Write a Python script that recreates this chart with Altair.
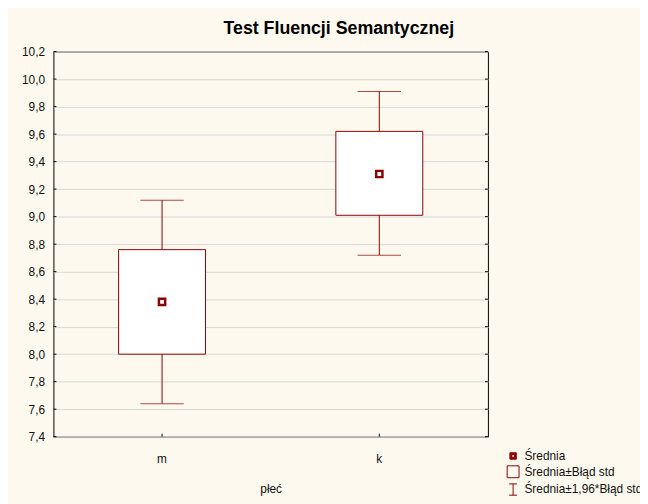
import altair as alt
import pandas as pd

# ---- data ----
categories = ["m", "k"]
means = [8.38, 9.31]
se_low = [8.00, 9.01]
se_high = [8.76, 9.62]
ci_low = [7.64, 8.72]
ci_high = [9.12, 9.91]
y_ticks = [7.4, 7.6, 7.8, 8.0, 8.2, 8.4, 8.6, 8.8, 9.0, 9.2, 9.4, 9.6, 9.8, 10.0, 10.2]
legend_labels = ["Średnia", "Średnia±Błąd std", "Średnia±1,96*Błąd std"]

RED = "#8b0000"
FONT = "Liberation Sans"
W, H = 440, 390

df = pd.DataFrame({
    "plec": categories,
    "mean": means,
    "se_lo": se_low,
    "se_hi": se_high,
    "ci_lo": ci_low,
    "ci_hi": ci_high,
})
ticks_df = pd.DataFrame({"t": y_ticks})
leg_df = pd.DataFrame({"series": legend_labels})

x_scale = alt.Scale(domain=categories, paddingInner=0, paddingOuter=0)
y_scale = alt.Scale(domain=[7.4, 10.2], nice=False, zero=False)

x_enc = alt.X(
    "plec:N",
    scale=x_scale,
    sort=categories,
    axis=alt.Axis(
        title="płeć", labelAngle=0, ticks=False, domain=False, grid=False,
        labelFont=FONT, labelFontSize=12, labelColor="#111", labelPadding=17,
        titleFont=FONT, titleFontSize=12, titleFontWeight="normal",
        titleColor="#111", titlePadding=19,
    ),
)
y_axis = alt.Axis(
    title=None, values=y_ticks, ticks=False, domain=False, grid=True,
    gridColor="#d6d6d6", gridWidth=1, labelOverlap=False, labelBound=False,
    labelExpr="replace(format(datum.value, '.1f'), '.', ',')",
    labelFont=FONT, labelFontSize=12, labelColor="#111", labelPadding=9,
)

base = alt.Chart(df)

whisker = base.mark_rule(color=RED, strokeWidth=1).encode(
    x=x_enc,
    y=alt.Y("ci_lo:Q", scale=y_scale, axis=y_axis),
    y2="ci_hi:Q",
)
box = base.mark_bar(size=88, fill="white", stroke=RED, strokeWidth=1).encode(
    x="plec:N",
    y=alt.Y("se_lo:Q", scale=y_scale, axis=y_axis),
    y2="se_hi:Q",
)
cap_hi = base.mark_tick(color=RED, size=44, thickness=1).encode(
    x="plec:N", y=alt.Y("ci_hi:Q", scale=y_scale, axis=y_axis)
)
cap_lo = base.mark_tick(color=RED, size=44, thickness=1).encode(
    x="plec:N", y=alt.Y("ci_lo:Q", scale=y_scale, axis=y_axis)
)
mean_pt = base.mark_square(size=40, fill="white", stroke=RED, strokeWidth=2.5, opacity=1).encode(
    x="plec:N", y=alt.Y("mean:Q", scale=y_scale, axis=y_axis)
)

# inner tick marks (Statistica style: pointing inside the frame)
left_ticks = alt.Chart(ticks_df).mark_rule(color="black").encode(
    y=alt.Y("t:Q", scale=y_scale, axis=y_axis), x=alt.value(0), x2=alt.value(3)
)
right_ticks = alt.Chart(ticks_df).mark_rule(color="black").encode(
    y=alt.Y("t:Q", scale=y_scale, axis=y_axis), x=alt.value(W - 3), x2=alt.value(W)
)
x_ticks = base.mark_rule(color="black").encode(
    x="plec:N", y=alt.value(H - 3), y2=alt.value(H)
)

# legend (driven by a shape/fill/stroke scale on the series labels)
shape_range = [
    "M-0.54,-0.54H0.54V0.54H-0.54Z M-0.22,-0.22V0.22H0.22V-0.22Z",
    "M-1,-1H1V1H-1Z",
    "M-0.66,-0.95H0.66 M0,-0.95V0.95 M-0.66,0.95H0.66",
]
leg = alt.Legend(
    title=None, orient="none", legendX=459, legendY=403,
    symbolSize=144, symbolStrokeWidth=1, symbolOpacity=1,
    labelFont=FONT, labelFontSize=12,
    labelColor="#111", labelOffset=5, rowPadding=1, padding=0,
)
legend_layer = alt.Chart(leg_df).transform_filter("false").mark_point(
    filled=True, size=144, opacity=1
).encode(
    shape=alt.Shape("series:N", scale=alt.Scale(domain=legend_labels, range=shape_range), legend=leg),
    fill=alt.Fill("series:N", scale=alt.Scale(domain=legend_labels, range=[RED, "transparent", "transparent"]), legend=leg),
    stroke=alt.Stroke("series:N", scale=alt.Scale(domain=legend_labels, range=[RED, RED, RED]), legend=leg),
)

chart = alt.layer(
    whisker, box, cap_hi, cap_lo, mean_pt, left_ticks, right_ticks, x_ticks, legend_layer
).properties(
    width=W,
    height=H,
    title=alt.TitleParams(
        "Test Fluencji Semantycznej", anchor="middle", dx=69, fontSize=18,
        font=FONT, fontWeight="bold", color="#000", offset=8,
    ),
    autosize=alt.AutoSizeParams(type="none"),
    padding={"left": 46, "top": 41, "right": 154, "bottom": 65},
    background="#fdf9ee",
).configure_view(
    fill="white", stroke="black", strokeWidth=1
)

chart.save("out.html", embed_options={"renderer": "svg", "actions": False})
